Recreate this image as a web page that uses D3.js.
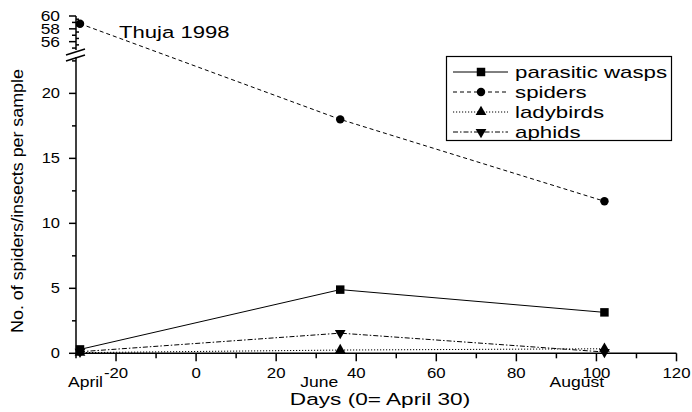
<!DOCTYPE html>
<html><head><meta charset="utf-8">
<script src="https://cdn.jsdelivr.net/npm/d3@7"></script>
<style>body{margin:0;background:#fff}text{font-family:"Liberation Sans",Arial,sans-serif;fill:#000}</style>
</head><body><svg id="c" width="692" height="412"></svg>
<script>
const days = [-29, 36, 102];
const months = ["April", "June", "August"];
const monthLabelX = [-23.25, 35.5, 101.9];
const wasps = [0.3, 4.9, 3.15];
const spiders = [58.8, 18.0, 11.7];
const ladybirds = [0.05, 0.25, 0.35];
const aphids = [0.12, 1.55, 0.1];
const seriesNames = ["parasitic wasps", "spiders", "ladybirds", "aphids"];
const xTicks = [-20, 0, 20, 40, 60, 80, 100, 120];
const yTicksLow = [0, 5, 10, 15, 20];
const yTicksHigh = [56, 58, 60];

const svg = d3.select("#c");
const x = d3.scaleLinear().domain([-30, 120]).range([76, 676.5]);
const y = d3.scaleLinear().domain([0, 22.8, 54.7, 60]).range([353.3, 57, 50, 16]);
const lowTop = 22.8, highBot = 54.7;

function txt(g, tx, ty, s, size, sx, anchor) {
  return g.append("text").attr("transform", `translate(${tx},${ty}) scale(${sx},1)`)
    .attr("text-anchor", anchor || "start").style("font-size", size + "px").text(s);
}

const axis = svg.append("g").attr("stroke", "#000").attr("stroke-width", 1.5);
axis.append("line").attr("x1", x(-30)).attr("x2", x(120)).attr("y1", y(0)).attr("y2", y(0));
d3.range(-30, 121, 10).forEach(v => {
  const major = v % 20 === 0;
  axis.append("line").attr("x1", x(v)).attr("x2", x(v)).attr("y1", y(0)).attr("y2", y(0) + (major ? 8 : 5));
});
axis.append("line").attr("x1", x(-30)).attr("x2", x(-30)).attr("y1", y(0)).attr("y2", y(lowTop));
axis.append("line").attr("x1", x(-30)).attr("x2", x(-30)).attr("y1", y(highBot)).attr("y2", y(60));
d3.range(0, 22.6, 2.5).forEach(v => {
  const major = v % 5 === 0;
  axis.append("line").attr("x1", x(-30)).attr("x2", x(-30) - (major ? 7 : 4)).attr("y1", y(v)).attr("y2", y(v));
});
d3.range(55, 60.1, 1).forEach(v => {
  const major = yTicksHigh.includes(v);
  axis.append("line").attr("x1", x(-30)).attr("x2", x(-30) - (major ? 7 : 4)).attr("y1", y(v)).attr("y2", y(v));
});
d3.range(55.5, 60, 1).forEach(v => {
  axis.append("line").attr("x1", x(-30)).attr("x2", x(-30) + 3).attr("y1", y(v)).attr("y2", y(v));
});
[y(highBot) + 2, y(lowTop) + 1].forEach(yy => {
  axis.append("line").attr("x1", x(-30) - 10).attr("x2", x(-30) + 9).attr("y1", yy + 3).attr("y2", yy - 3);
});

const tl = svg.append("g");
xTicks.forEach(v => txt(tl, x(v), y(0) + 25, v, 15, 1.12, "middle"));
yTicksLow.forEach(v => txt(tl, x(-30) - 16, y(v) + 5, v, 15, 1.1, "end"));
yTicksHigh.forEach(v => txt(tl, x(-30) - 16, y(v) + 5, v, 14.5, 1.2, "end"));
months.forEach((m, i) => txt(tl, x(monthLabelX[i]), y(0) + 34, m, 15, 1.17, "end"));

txt(svg, 380, 405, "Days (0= April 30)", 17, 1.33, "middle");
svg.append("text").attr("transform", "translate(23,201) rotate(-90) scale(1.05,1)").attr("text-anchor", "middle")
  .style("font-size", "17px").text("No. of spiders/insects per sample");
txt(svg, 119, 38, "Thuja 1998", 17, 1.3, "start");

const series = [
  {name: seriesNames[0], vals: wasps, dash: null, sym: d3.symbolSquare, size: 72, rot: 0},
  {name: seriesNames[1], vals: spiders, dash: "4,3", sym: d3.symbolCircle, size: 56, rot: 0},
  {name: seriesNames[2], vals: ladybirds, dash: "1.2,1.8", sym: d3.symbolTriangle, size: 50, rot: 0},
  {name: seriesNames[3], vals: aphids, dash: "5,2,1.5,2", sym: d3.symbolTriangle, size: 50, rot: 180}
];
const line = d3.line().x(d => x(d[0])).y(d => y(d[1]));
series.forEach(s => {
  const pts = days.map((d, i) => [d, s.vals[i]]);
  svg.append("path").attr("d", line(pts)).attr("fill", "none").attr("stroke", "#000").attr("stroke-width", 1)
    .attr("stroke-dasharray", s.dash);
  pts.forEach(p => svg.append("path").attr("d", d3.symbol(s.sym, s.size)())
    .attr("transform", `translate(${x(p[0])},${y(p[1])}) rotate(${s.rot})`).attr("fill", "#000"));
});

const lg = svg.append("g");
lg.append("rect").attr("x", 446.5).attr("y", 56.5).attr("width", 225).attr("height", 84).attr("fill", "#fff").attr("stroke", "#000").attr("stroke-width", 1.2);
series.forEach((s, i) => {
  const yy = 72 + i * 20;
  lg.append("line").attr("x1", 453).attr("x2", 508).attr("y1", yy).attr("y2", yy).attr("stroke", "#000").attr("stroke-dasharray", s.dash);
  lg.append("path").attr("d", d3.symbol(s.sym, s.size)()).attr("transform", `translate(481,${yy}) rotate(${s.rot})`).attr("fill", "#000");
  txt(lg, 515, yy + 6, s.name, 17, 1.31, "start");
});
</script></body></html>
